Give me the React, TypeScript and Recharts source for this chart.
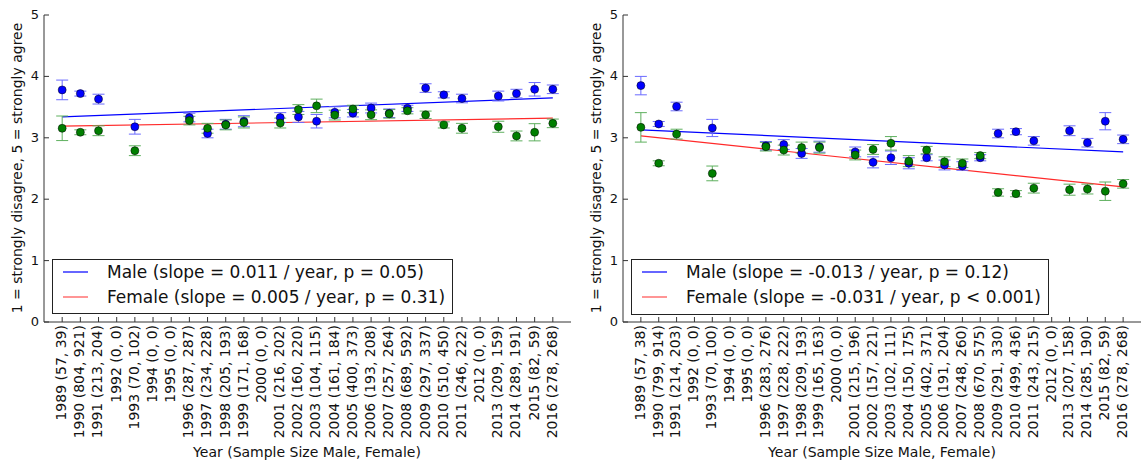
import React from 'react';
import { ComposedChart, Scatter, Line, XAxis, YAxis, ErrorBar } from 'recharts';

const years = [1989, 1990, 1991, 1992, 1993, 1994, 1995, 1996, 1997, 1998, 1999, 2000, 2001, 2002, 2003, 2004, 2005, 2006, 2007, 2008, 2009, 2010, 2011, 2012, 2013, 2014, 2015, 2016];
const yTicks = [0, 1, 2, 3, 4, 5];

const leftTickLabels = ['1989 (57, 39)', '1990 (804, 921)', '1991 (213, 204)', '1992 (0, 0)', '1993 (70, 102)', '1994 (0, 0)', '1995 (0, 0)', '1996 (287, 287)', '1997 (234, 228)', '1998 (205, 193)', '1999 (171, 168)', '2000 (0, 0)', '2001 (216, 202)', '2002 (160, 220)', '2003 (104, 115)', '2004 (161, 184)', '2005 (400, 373)', '2006 (193, 208)', '2007 (257, 264)', '2008 (689, 592)', '2009 (297, 337)', '2010 (510, 450)', '2011 (246, 222)', '2012 (0, 0)', '2013 (209, 159)', '2014 (289, 191)', '2015 (82, 59)', '2016 (278, 268)'];
const rightTickLabels = ['1989 (57, 38)', '1990 (799, 914)', '1991 (214, 203)', '1992 (0, 0)', '1993 (70, 100)', '1994 (0, 0)', '1995 (0, 0)', '1996 (283, 276)', '1997 (228, 222)', '1998 (209, 193)', '1999 (165, 163)', '2000 (0, 0)', '2001 (215, 196)', '2002 (157, 221)', '2003 (102, 111)', '2004 (150, 175)', '2005 (402, 371)', '2006 (191, 204)', '2007 (248, 260)', '2008 (670, 575)', '2009 (291, 330)', '2010 (499, 436)', '2011 (243, 215)', '2012 (0, 0)', '2013 (207, 158)', '2014 (285, 190)', '2015 (82, 59)', '2016 (278, 268)'];

const dataYears = [1989, 1990, 1991, 1993, 1996, 1997, 1998, 1999, 2001, 2002, 2003, 2004, 2005, 2006, 2007, 2008, 2009, 2010, 2011, 2013, 2014, 2015, 2016];

const leftMaleMean = [3.78, 3.72, 3.63, 3.18, 3.33, 3.07, 3.22, 3.27, 3.33, 3.34, 3.27, 3.415, 3.40, 3.485, 3.40, 3.48, 3.81, 3.70, 3.64, 3.68, 3.72, 3.79, 3.79];
const leftMaleErr = [0.16, 0.04, 0.08, 0.12, 0.07, 0.07, 0.08, 0.09, 0.08, 0.09, 0.11, 0.09, 0.06, 0.08, 0.07, 0.05, 0.07, 0.05, 0.07, 0.08, 0.07, 0.11, 0.07];
const leftFemaleMean = [3.155, 3.09, 3.115, 2.79, 3.28, 3.155, 3.21, 3.25, 3.24, 3.46, 3.52, 3.37, 3.47, 3.375, 3.39, 3.44, 3.375, 3.21, 3.155, 3.18, 3.03, 3.09, 3.235];
const leftFemaleErr = [0.2, 0.04, 0.08, 0.08, 0.07, 0.08, 0.08, 0.09, 0.08, 0.08, 0.11, 0.08, 0.06, 0.08, 0.07, 0.05, 0.06, 0.05, 0.08, 0.09, 0.08, 0.14, 0.07];

const rightMaleMean = [3.85, 3.225, 3.51, 3.16, 2.87, 2.89, 2.745, 2.855, 2.77, 2.60, 2.675, 2.585, 2.675, 2.557, 2.54, 2.675, 3.07, 3.10, 2.95, 3.115, 2.92, 3.27, 2.975];
const rightMaleErr = [0.15, 0.04, 0.07, 0.14, 0.07, 0.08, 0.08, 0.09, 0.08, 0.09, 0.11, 0.09, 0.05, 0.08, 0.07, 0.05, 0.07, 0.05, 0.07, 0.08, 0.07, 0.14, 0.07];
const rightFemaleMean = [3.17, 2.585, 3.06, 2.42, 2.855, 2.80, 2.84, 2.84, 2.72, 2.81, 2.91, 2.62, 2.80, 2.61, 2.585, 2.71, 2.11, 2.09, 2.18, 2.155, 2.165, 2.13, 2.25];
const rightFemaleErr = [0.24, 0.04, 0.08, 0.12, 0.07, 0.08, 0.09, 0.09, 0.08, 0.08, 0.11, 0.09, 0.06, 0.08, 0.07, 0.05, 0.06, 0.05, 0.08, 0.09, 0.08, 0.15, 0.07];

const fitYears = [1989, 2016];
const leftMaleFit = [3.34, 3.65];
const leftFemaleFit = [3.19, 3.32];
const rightMaleFit = [3.13, 2.77];
const rightFemaleFit = [3.03, 2.2];

const leftLegend = ['Male (slope = 0.011 / year, p = 0.05)', 'Female (slope = 0.005 / year, p = 0.31)'];
const rightLegend = ['Male (slope = -0.013 / year, p = 0.12)', 'Female (slope = -0.031 / year, p < 0.001)'];

const FONT = '"DejaVu Sans", sans-serif';
const FRAME = '#333';
const TEXT = '#111';
const BLUE = '#0000ff';
const GREEN = '#007f00';
const RED = '#ff2a2a';

const build = (means: number[], errs: number[]) => dataYears.map((year, i) => ({ year, value: means[i], err: errs[i] }));
const buildFit = (vals: number[]) => fitYears.map((year, i) => ({ year, fit: vals[i] }));

const dot = (fill: string) => (p: any) => (
  <circle cx={p.cx} cy={p.cy} r={4} fill={fill} stroke="#000" strokeWidth={0.5} />
);

function Panel(props: any) {
  const { left, width, yAxisWidth, marginRight, tickLabels, male, female, maleFit, femaleFit } = props;
  const labelMap = new Map(years.map((y, i) => [y, tickLabels[i]]));
  const bottomTick = (p: any) => (
    <g>
      <line x1={p.x} x2={p.x} y1={p.y} y2={p.y - 5} stroke={FRAME} />
      <text transform={`translate(${p.x - 1},${p.y + 3}) rotate(-90)`} textAnchor="end" dy="0.35em" fontSize={14} fill={TEXT} fontFamily={FONT}>
        {labelMap.get(p.payload.value)}
      </text>
    </g>
  );
  const topTick = (p: any) => <line x1={p.x} x2={p.x} y1={p.y} y2={p.y + 5} stroke={FRAME} />;
  const leftTick = (p: any) => (
    <g>
      <line x1={p.x} x2={p.x + 5} y1={p.y} y2={p.y} stroke={FRAME} />
      <text x={p.x - 5} y={p.y} textAnchor="end" dy="0.3em" fontSize={13} fill={TEXT} fontFamily={FONT}>
        {p.payload.value}
      </text>
    </g>
  );
  const rightTick = (p: any) => <line x1={p.x} x2={p.x - 5} y1={p.y} y2={p.y} stroke={FRAME} />;
  return (
    <div style={{ position: 'absolute', left, top: 0 }}>
      <ComposedChart width={width} height={463} margin={{ top: 15, right: marginRight, bottom: 0, left: 0 }}>
        <XAxis dataKey="year" type="number" domain={[1988, 2017]} ticks={years} interval={0} height={141}
          tickSize={0} tickMargin={0} tickLine={false} axisLine={{ stroke: FRAME }} tick={bottomTick} allowDataOverflow />
        <XAxis xAxisId="top" orientation="top" dataKey="year" type="number" domain={[1988, 2017]} ticks={years} interval={0} height={0}
          tickSize={0} tickMargin={0} tickLine={false} axisLine={{ stroke: FRAME }} tick={topTick} allowDataOverflow />
        <YAxis type="number" domain={[0, 5]} ticks={yTicks} interval={0} width={yAxisWidth}
          tickSize={0} tickMargin={0} tickLine={false} axisLine={{ stroke: FRAME }} tick={leftTick} allowDataOverflow />
        <YAxis yAxisId="right" orientation="right" type="number" domain={[0, 5]} ticks={yTicks} interval={0} width={0}
          tickSize={0} tickMargin={0} tickLine={false} axisLine={{ stroke: FRAME }} tick={rightTick} allowDataOverflow />
        <Line data={maleFit} dataKey="fit" stroke={BLUE} strokeWidth={1.2} dot={false} isAnimationActive={false} />
        <Line data={femaleFit} dataKey="fit" stroke={RED} strokeWidth={1.2} dot={false} isAnimationActive={false} />
        <Scatter data={male} dataKey="value" shape={dot(BLUE)} isAnimationActive={false}>
          <ErrorBar dataKey="err" direction="y" width={6} stroke="#6a6aff" strokeWidth={1} />
        </Scatter>
        <Scatter data={female} dataKey="value" shape={dot(GREEN)} isAnimationActive={false}>
          <ErrorBar dataKey="err" direction="y" width={6} stroke="#5fb05f" strokeWidth={1} />
        </Scatter>
      </ComposedChart>
    </div>
  );
}

function LegendBox(props: any) {
  const { left, top, width, height, texts } = props;
  const rows = [{ c: BLUE, y: 13 }, { c: '#ff4d4d', y: 38 }];
  return (
    <svg style={{ position: 'absolute', left, top }} width={width + 2} height={height + 2}>
      <rect x={0.5} y={0.5} width={width} height={height} fill="#fff" stroke="#222" strokeWidth={1} />
      {rows.map((r, i) => (
        <g key={i}>
          <line x1={11} x2={36} y1={r.y} y2={r.y} stroke={r.c} strokeWidth={1.2} />
          <text x={55} y={r.y} dy="0.35em" fontSize={17} fill={TEXT} fontFamily={FONT}>{texts[i]}</text>
        </g>
      ))}
    </svg>
  );
}

function Titles() {
  const yTitle = '1 = strongly disagree, 5 = strongly agree';
  const xTitle = 'Year (Sample Size Male, Female)';
  return (
    <svg style={{ position: 'absolute', left: 0, top: 0, pointerEvents: 'none' }} width={1142} height={463}>
      <text transform="translate(17,168) rotate(-90)" textAnchor="middle" dy="0.35em" fontSize={14} fill={TEXT} fontFamily={FONT}>{yTitle}</text>
      <text transform="translate(596,168) rotate(-90)" textAnchor="middle" dy="0.35em" fontSize={14} fill={TEXT} fontFamily={FONT}>{yTitle}</text>
      <text x={307} y={452} textAnchor="middle" dy="0.35em" fontSize={14} fill={TEXT} fontFamily={FONT}>{xTitle}</text>
      <text x={882} y={452} textAnchor="middle" dy="0.35em" fontSize={14} fill={TEXT} fontFamily={FONT}>{xTitle}</text>
    </svg>
  );
}

export default function App() {
  return (
    <div style={{ position: 'absolute', left: 0, top: 0, width: 1142, height: 463, background: '#fff', overflow: 'hidden' }}>
      <Panel left={0} width={600} yAxisWidth={44} marginRight={29} tickLabels={leftTickLabels}
        male={build(leftMaleMean, leftMaleErr)} female={build(leftFemaleMean, leftFemaleErr)}
        maleFit={buildFit(leftMaleFit)} femaleFit={buildFit(leftFemaleFit)} />
      <Panel left={580} width={562} yAxisWidth={43} marginRight={1} tickLabels={rightTickLabels}
        male={build(rightMaleMean, rightMaleErr)} female={build(rightFemaleMean, rightFemaleErr)}
        maleFit={buildFit(rightMaleFit)} femaleFit={buildFit(rightFemaleFit)} />
      <LegendBox left={52} top={259} width={400} height={54} texts={leftLegend} />
      <LegendBox left={631} top={259} width={417} height={55} texts={rightLegend} />
      <Titles />
    </div>
  );
}
